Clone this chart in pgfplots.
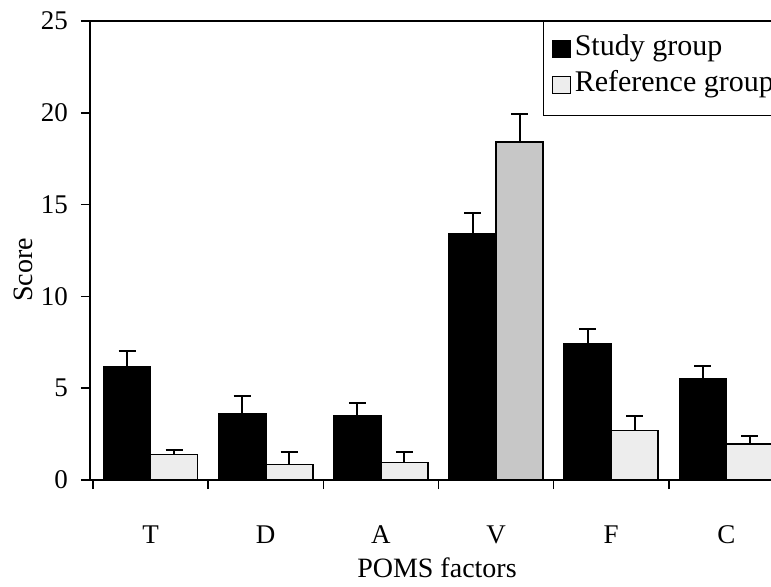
\documentclass[border=0pt]{standalone}
\usepackage{fontspec}
\setmainfont{Liberation Serif}
\usepackage{pgfplots}
\pgfplotsset{compat=1.18}
\definecolor{refgray}{gray}{0.93}
\definecolor{refgrayV}{gray}{0.78}
\begin{document}
\begin{tikzpicture}
\useasboundingbox (-45pt,-53pt) rectangle (340.5pt,240pt);
\begin{axis}[
  at={(0pt,0pt)}, anchor=south west,
  scale only axis, width=347pt, height=229.5pt,
  xmin=-0.026, xmax=6, ymin=0, ymax=25,
  ybar=0pt, bar width=23.5pt,
  tick pos=left, tick align=outside,
  xtick={0,1,2,3,4,5,6},
  x tick label as interval,
  xticklabels={T,D,A,V,F,C},
  ytick={0,5,10,15,20,25},
  major tick length=4.5pt,
  tick style={black, line width=0.8pt},
  axis line style={line width=0.9pt},
  /pgf/number format/assume math mode=true,
  tick label style={font=\fontsize{13.5}{16}\selectfont},
  xticklabel style={yshift=-15pt},
  yticklabel style={xshift=-3pt},
  xlabel={POMS factors}, ylabel={Score},
  every axis x label/.style={at={(rel axis cs:0.5,0)}, anchor=center, yshift=-44pt, font=\fontsize{14}{17}\selectfont},
  every axis y label/.style={at={(rel axis cs:0,0.4575)}, rotate=90, anchor=center, yshift=33.5pt, font=\fontsize{14}{17}\selectfont},
  legend style={at={(0.6527,1)}, anchor=north west, draw=black, line width=0.6pt,
    font=\fontsize{15}{18}\selectfont, inner xsep=4pt, inner ysep=6.2pt, row sep=1.5pt,
    nodes={inner ysep=0.5pt, inner xsep=2pt, text depth=5pt},
    cells={anchor=west}},
  legend image code/.code={\draw[#1,line width=0.6pt] (0pt,-3.6pt) rectangle (9pt,4.9pt);},
]
\addplot[fill=black, draw=black, line width=0.8pt,
  error bars/.cd, y dir=plus, y explicit,
  error bar style={line width=1pt, black},
  error mark options={rotate=90, mark size=4.25pt, line width=1pt, black}]
coordinates {
  (0.5,6.15) +- (0,0.85)
  (1.5,3.6) +- (0,0.95)
  (2.5,3.5) +- (0,0.7)
  (3.5,13.4) +- (0,1.15)
  (4.5,7.4) +- (0,0.8)
  (5.5,5.5) +- (0,0.7)
};
\addlegendentry{Study group}
\addplot[fill=refgray, draw=black, line width=0.8pt,
  error bars/.cd, y dir=plus, y explicit,
  error bar style={line width=1pt, black},
  error mark options={rotate=90, mark size=4.25pt, line width=1pt, black}]
coordinates {
  (0.5,1.4) +- (0,0.25)
  (1.5,0.85) +- (0,0.7)
  (2.5,0.95) +- (0,0.6)
  (4.5,2.7) +- (0,0.8)
  (5.5,1.95) +- (0,0.45)
};
\addlegendentry{Reference group}
\addplot[forget plot, bar shift=11.75pt, fill=refgrayV, draw=black, line width=0.8pt,
  error bars/.cd, y dir=plus, y explicit,
  error bar style={line width=1pt, black},
  error mark options={rotate=90, mark size=4.25pt, line width=1pt, black}]
coordinates {
  (3.5,18.4) +- (0,1.55)
};
\end{axis}
\end{tikzpicture}
\end{document}
